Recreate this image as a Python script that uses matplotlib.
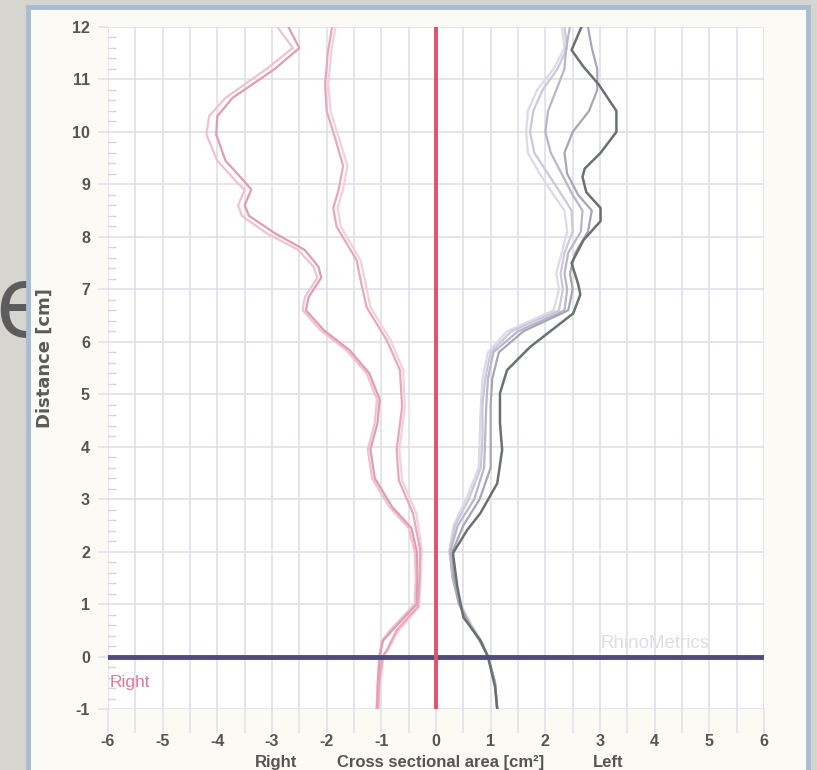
import numpy as np
import matplotlib
matplotlib.use('Agg')
import matplotlib.pyplot as plt
from matplotlib.patches import Rectangle
from matplotlib.ticker import MultipleLocator

plt.rcParams['font.family'] = ['Liberation Sans', 'DejaVu Sans']
plt.rcParams['axes.unicode_minus'] = False
plt.rcParams['lines.solid_joinstyle'] = 'round'

# ---- data: right side (pink, negative area) ----
right_a_y = [12.0, 11.6, 11.2, 10.65, 10.3, 9.95, 9.45, 9.05, 8.9, 8.6, 8.4, 8.07, 7.75, 7.43,
             7.22, 6.85, 6.6, 6.22, 5.84, 5.4, 4.9, 4.45, 3.95, 3.4, 2.85, 2.45, 2.0, 1.5,
             1.0, 0.5, 0.3, 0.0, -0.5, -1.0]
right_a1 = [-2.7, -2.5, -2.95, -3.72, -4.0, -4.02, -3.85, -3.5, -3.38, -3.5, -3.42, -2.95,
            -2.4, -2.15, -2.1, -2.33, -2.38, -2.05, -1.58, -1.22, -1.03, -1.07, -1.2, -1.12,
            -0.8, -0.45, -0.35, -0.34, -0.35, -0.8, -0.97, -1.03, -1.06, -1.08]
right_a2 = [-2.9, -2.62, -3.1, -3.85, -4.15, -4.2, -4.0, -3.65, -3.5, -3.62, -3.55, -3.1,
            -2.52, -2.24, -2.17, -2.4, -2.44, -2.11, -1.64, -1.27, -1.08, -1.12, -1.25, -1.17,
            -0.85, -0.5, -0.39, -0.37, -0.39, -0.84, -0.99, -1.04, -1.07, -1.09]

right_b_y = [12.0, 11.5, 10.9, 10.4, 9.9, 9.35, 8.9, 8.55, 8.2, 7.55, 7.18, 6.66, 6.03, 5.46,
             4.76, 3.94, 3.36, 2.73, 2.03, 1.5, 0.95, 0.5, 0.12, 0.0, -0.5, -1.0]
right_b1 = [-1.9, -1.98, -2.03, -2.0, -1.85, -1.7, -1.78, -1.88, -1.82, -1.45, -1.38, -1.27,
            -0.9, -0.66, -0.62, -0.72, -0.68, -0.42, -0.29, -0.3, -0.33, -0.72, -0.9, -0.98,
            -1.04, -1.06]
right_b2 = [-1.84, -1.92, -1.97, -1.93, -1.78, -1.62, -1.7, -1.8, -1.74, -1.38, -1.3, -1.2,
            -0.83, -0.6, -0.57, -0.67, -0.62, -0.36, -0.26, -0.28, -0.31, -0.68, -0.88, -0.96,
            -1.02, -1.05]

# ---- data: left side (grey, positive area) ----
left_dark_y = [12.0, 11.56, 11.24, 10.9, 10.4, 10.0, 9.6, 9.3, 9.14, 8.85, 8.55, 8.3, 7.94,
               7.5, 7.1, 6.9, 6.54, 5.9, 5.46, 5.02, 4.45, 3.94, 3.3, 2.73, 2.41, 1.97, 1.33,
               0.75, 0.31, 0.0, -0.58, -1.0]
left_dark = [2.66, 2.48, 2.7, 2.98, 3.3, 3.3, 3.01, 2.72, 2.68, 2.75, 3.01, 3.01, 2.7, 2.48,
             2.6, 2.64, 2.51, 1.72, 1.3, 1.17, 1.17, 1.21, 1.12, 0.81, 0.57, 0.31, 0.39, 0.5,
             0.81, 0.95, 1.08, 1.12]

left_light_y = [12.0, 11.6, 11.2, 10.8, 10.4, 10.0, 9.6, 9.2, 8.8, 8.5, 8.1, 7.7, 7.3, 7.0,
                6.6, 6.2, 5.8, 5.3, 4.8, 4.2, 3.6, 3.0, 2.5, 2.0, 1.5, 1.0, 0.6, 0.3, 0.0,
                -0.5, -1.0]
left_light1 = [2.78, 2.85, 2.95, 2.95, 2.8, 2.5, 2.35, 2.4, 2.6, 2.85, 2.78, 2.55, 2.45, 2.5,
               2.42, 1.6, 1.15, 1.03, 1.0, 1.0, 1.0, 0.8, 0.5, 0.3, 0.33, 0.42, 0.62, 0.8,
               0.95, 1.08, 1.12]
left_light2 = [2.45, 2.38, 2.35, 2.2, 2.05, 2.0, 2.1, 2.3, 2.5, 2.68, 2.65, 2.42, 2.35, 2.4,
               2.35, 1.5, 1.05, 0.95, 0.92, 0.9, 0.88, 0.7, 0.4, 0.26, 0.3, 0.42, 0.62, 0.8,
               0.95, 1.08, 1.12]
left_light3 = [2.35, 2.4, 2.22, 1.95, 1.78, 1.72, 1.8, 2.05, 2.3, 2.48, 2.5, 2.35, 2.28, 2.32,
               2.25, 1.38, 1.0, 0.9, 0.85, 0.85, 0.82, 0.6, 0.35, 0.25, 0.31, 0.44, 0.64,
               0.82, 0.95, 1.08, 1.12]
left_light4 = [2.3, 2.35, 2.15, 1.85, 1.68, 1.65, 1.68, 1.9, 2.15, 2.35, 2.4, 2.3, 2.2, 2.25,
               2.15, 1.3, 0.95, 0.85, 0.82, 0.8, 0.78, 0.55, 0.32, 0.24, 0.31, 0.45, 0.65,
               0.83, 0.96, 1.08, 1.12]

x_ticks = [-6, -5, -4, -3, -2, -1, 0, 1, 2, 3, 4, 5, 6]
y_ticks = [-1, 0, 1, 2, 3, 4, 5, 6, 7, 8, 9, 10, 11, 12]

W, H = 817, 770
fig = plt.figure(figsize=(W / 100, H / 100), dpi=100, facecolor='#d7d5cf')

# slide title letter peeking out behind the chart
fig.text(-6 / W, 1 - 337 / H, 'e', fontsize=74, family=['Open Sans', 'DejaVu Sans'],
         color='#5c5c5c', ha='left', va='baseline', zorder=-2)

# chart panel
panel = Rectangle((28 / W, -0.05), (808 - 28) / W, 1.05 - 7 / H, transform=fig.transFigure,
                  facecolor='#fcfaf5', edgecolor='#a9bcd6', linewidth=3.5, zorder=-1)
fig.patches.append(panel)

ax = fig.add_axes([108 / W, 61 / H, 656 / W, 682 / H])
ax.set_facecolor('white')
for s in ax.spines.values():
    s.set_visible(False)

ax.set_xlim(-6, 6)
ax.set_ylim(-1, 12)
ax.set_xticks(x_ticks)
ax.set_xticks(np.arange(-5.5, 6, 1), minor=True)
ax.set_yticks(y_ticks)
ax.yaxis.set_minor_locator(MultipleLocator(0.2))

gridc = '#e3e0ea'
ax.grid(axis='x', which='both', color=gridc, lw=1.3, zorder=0)
ax.grid(axis='y', which='major', color=gridc, lw=1.3, zorder=0)
ax.set_axisbelow(True)

ax.tick_params(axis='x', which='both', direction='out', length=17, width=1.2, color=gridc, pad=1)
ax.tick_params(axis='x', which='major', labelsize=11.5, labelcolor='#555555')
ax.tick_params(axis='y', which='major', direction='out', length=7, width=1.2, color=gridc,
               pad=6, labelsize=11.5, labelcolor='#555555')
ax.tick_params(axis='y', which='minor', direction='in', length=6, width=1.0, color='#d6d3dd')
for lab in ax.get_xticklabels() + ax.get_yticklabels():
    lab.set_fontweight('bold')

# curves
ax.plot(right_a2, right_a_y, color='#f0c2cf', lw=1.6, zorder=3)
ax.plot(right_a1, right_a_y, color='#e29cb1', lw=1.6, zorder=3)
ax.plot(right_b2, right_b_y, color='#f4d0da', lw=1.6, zorder=3)
ax.plot(right_b1, right_b_y, color='#e8a8ba', lw=1.6, zorder=3)

ax.plot(left_light4, left_light_y, color='#dcdae6', lw=1.6, zorder=3)
ax.plot(left_light3, left_light_y, color='#cac8da', lw=1.6, zorder=3)
ax.plot(left_light2, left_light_y, color='#b8b6c8', lw=1.6, zorder=3)
ax.plot(left_light1, left_light_y, color='#a8a6b6', lw=1.6, zorder=3)
ax.plot(left_dark, left_dark_y, color='#66736d', lw=1.8, zorder=3)

# reference lines
ax.axhline(0, color='#4d4c7c', lw=3.5, zorder=4)
ax.axvline(0, color='#e4506a', lw=2.8, zorder=5)

ax.text(-5.97, -0.5, 'Right', color='#e07a98', fontsize=12.5, va='center', ha='left')
ax.text(3.0, 0.24, 'RhinoMetrics', color='#dedbe8', fontsize=13.5, va='center', ha='left')

# axis labels
fig.text(45 / W, 1 - 358 / H, 'Distance [cm]', rotation=90, fontsize=13, fontweight='bold',
         family=['DejaVu Sans'], color='#5a5a5a', ha='center', va='center')
base = 1 - 767 / H
fig.text(276 / W, base, 'Right', fontsize=12, fontweight='bold', color='#555555',
         ha='center', va='baseline')
fig.text(441 / W, base, 'Cross sectional area [cm²]', fontsize=12, fontweight='bold',
         color='#555555', ha='center', va='baseline')
fig.text(608 / W, base, 'Left', fontsize=12, fontweight='bold', color='#555555',
         ha='center', va='baseline')

fig.savefig('out.png', dpi=100, facecolor=fig.get_facecolor())
